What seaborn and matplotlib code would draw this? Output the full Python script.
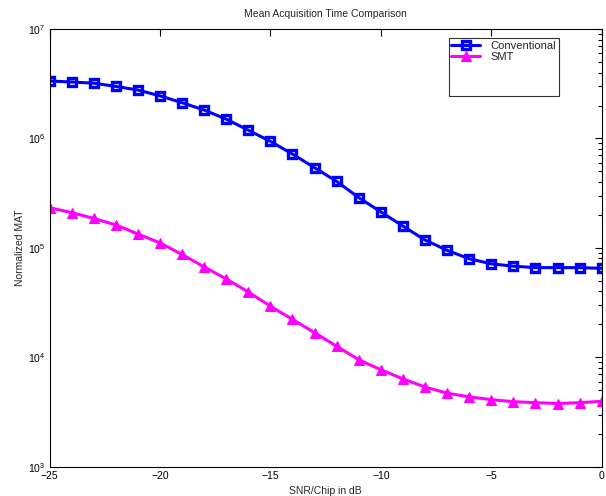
import matplotlib
matplotlib.use('Agg')
import matplotlib.pyplot as plt
import matplotlib.ticker as mticker
from matplotlib.lines import Line2D
import seaborn as sns
import numpy as np
import pandas as pd

# data
snr = [-25, -24, -23, -22, -21, -20, -19, -18, -17, -16, -15, -14, -13,
       -12, -11, -10, -9, -8, -7, -6, -5, -4, -3, -2, -1, 0]
conventional = [3.35e6, 3.28e6, 3.2e6, 2.99e6, 2.77e6, 2.45e6, 2.12e6, 1.82e6,
                1.5e6, 1.19e6, 9.4e5, 7.2e5, 5.4e5, 4.05e5, 2.88e5, 2.13e5,
                1.58e5, 1.18e5, 9.5e4, 7.95e4, 7.15e4, 6.8e4, 6.6e4, 6.6e4,
                6.6e4, 6.5e4]
smt = [2.33e5, 2.1e5, 1.86e5, 1.62e5, 1.34e5, 1.11e5, 8.7e4, 6.7e4, 5.2e4,
       3.95e4, 2.93e4, 2.22e4, 1.68e4, 1.26e4, 9.5e3, 7.7e3, 6.35e3, 5.35e3,
       4.7e3, 4.35e3, 4.1e3, 3.93e3, 3.85e3, 3.78e3, 3.85e3, 3.96e3]

df = pd.DataFrame({'snr': snr, 'Conventional': conventional, 'SMT': smt})

sns.set_style('white')
plt.rcParams['font.family'] = ['Liberation Sans', 'DejaVu Sans']
plt.rcParams['mathtext.fontset'] = 'custom'
plt.rcParams['mathtext.rm'] = 'Liberation Sans'

fig = plt.figure(figsize=(6.06, 4.96), dpi=100)
ax = fig.add_axes([0.0817, 0.059, 0.9113, 0.8825])

sns.lineplot(data=df, x='snr', y='Conventional', ax=ax, color='#0000ff',
             linewidth=2.2, marker='s', markersize=5.5, markerfacecolor='none',
             markeredgecolor='#0000ff', markeredgewidth=2.4, label='Conventional')
sns.lineplot(data=df, x='snr', y='SMT', ax=ax, color='#ff00ff',
             linewidth=2.2, marker='^', markersize=7.5, markerfacecolor='#ff00ff',
             markeredgecolor='#ff00ff', label='SMT')

ax.set_yscale('log')
ax.set_xlim(-25, 0)
ax.set_ylim(1e3, 1e7)
ax.set_xticks([-25, -20, -15, -10, -5, 0])
ax.xaxis.set_major_formatter(mticker.FuncFormatter(lambda v, _: f'{v:.0f}'.replace('-', '\u2212')))
ax.yaxis.set_major_locator(mticker.LogLocator(base=10, numticks=10))
ax.yaxis.set_minor_locator(mticker.LogLocator(base=10, subs=np.arange(2, 10), numticks=20))
ax.yaxis.set_minor_formatter(mticker.NullFormatter())

ax.tick_params(axis='both', which='both', direction='in', top=True, right=True,
               labelsize=7.5, colors='black', pad=3)
ax.tick_params(which='major', length=5, width=0.8)
ax.tick_params(which='minor', length=3, width=0.8)
for s in ax.spines.values():
    s.set_color('black')
    s.set_linewidth(0.8)

ax.set_title('Mean Acquisition Time Comparison', fontsize=7.5, pad=9)
ax.set_xlabel('SNR/Chip in dB', fontsize=7.5, labelpad=4)
ax.set_ylabel('Normalized MAT', fontsize=7.5, labelpad=2)

handles, labels = ax.get_legend_handles_labels()
blank = Line2D([], [], linestyle='none')
leg = ax.legend(handles + [blank, blank, blank], labels + [' ', ' ', ' '],
                loc='upper right', bbox_to_anchor=(0.922, 0.979),
                fontsize=8, frameon=True, fancybox=False,
                edgecolor='black', handlelength=2.6, handletextpad=0.9,
                borderpad=0.25, borderaxespad=0, labelspacing=0.05)
leg.get_frame().set_linewidth(0.8)

fig.savefig('out.png', dpi=100)
